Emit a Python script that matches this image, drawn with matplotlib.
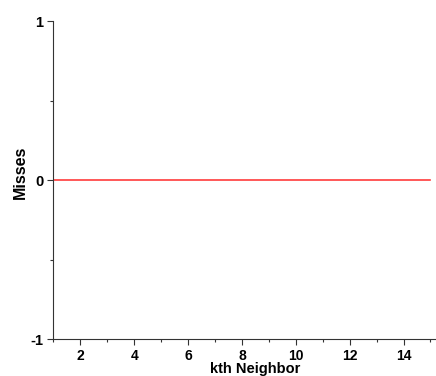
import numpy as np
import matplotlib
matplotlib.use("Agg")
import matplotlib.pyplot as plt
from matplotlib.ticker import MultipleLocator

# datos
k_vecino = [1, 2, 3, 4, 5, 6, 7, 8, 9, 10, 11, 12, 13, 14, 15]
fallos = [0, 0, 0, 0, 0, 0, 0, 0, 0, 0, 0, 0, 0, 0, 0]

plt.rcParams['font.family'] = ['Liberation Sans', 'DejaVu Sans']
plt.rcParams['font.weight'] = 'bold'
plt.rcParams['axes.unicode_minus'] = False

fig = plt.figure(figsize=(4.36, 3.76), dpi=100)
ax = fig.add_axes([0.1227, 0.0976, 0.877, 0.8457])

ax.plot(k_vecino, fallos, color='#ff3b3b', linewidth=1.2)

ax.set_xlim(1, 15.2)
ax.set_ylim(-1, 1)
ax.xaxis.set_major_locator(MultipleLocator(2))
ax.xaxis.set_minor_locator(MultipleLocator(1))
ax.yaxis.set_major_locator(MultipleLocator(1))
ax.yaxis.set_minor_locator(MultipleLocator(0.5))

for s in ['top', 'right']:
    ax.spines[s].set_visible(False)
for s in ['left', 'bottom']:
    ax.spines[s].set_color('#333333')
    ax.spines[s].set_linewidth(0.8)

ax.tick_params(which='major', length=4.2, width=0.8, color='#333333', labelsize=10.5, pad=3)
ax.tick_params(axis='x', which='major', labelsize=10, pad=2.5)
ax.tick_params(which='minor', length=2.4, width=0.8, color='#333333')
for lbl in ax.get_xticklabels() + ax.get_yticklabels():
    lbl.set_fontweight('bold')

# etiquetas de los ejes
ax.set_xlabel('kth Neighbor', fontsize=10.5, fontweight='bold')
ax.xaxis.set_label_coords(0.527, -0.0705)
ax.set_ylabel('Misses', fontsize=11.5, fontweight='bold')
ax.yaxis.set_label_coords(-0.066, 0.526)

fig.savefig('out.png', dpi=100)
